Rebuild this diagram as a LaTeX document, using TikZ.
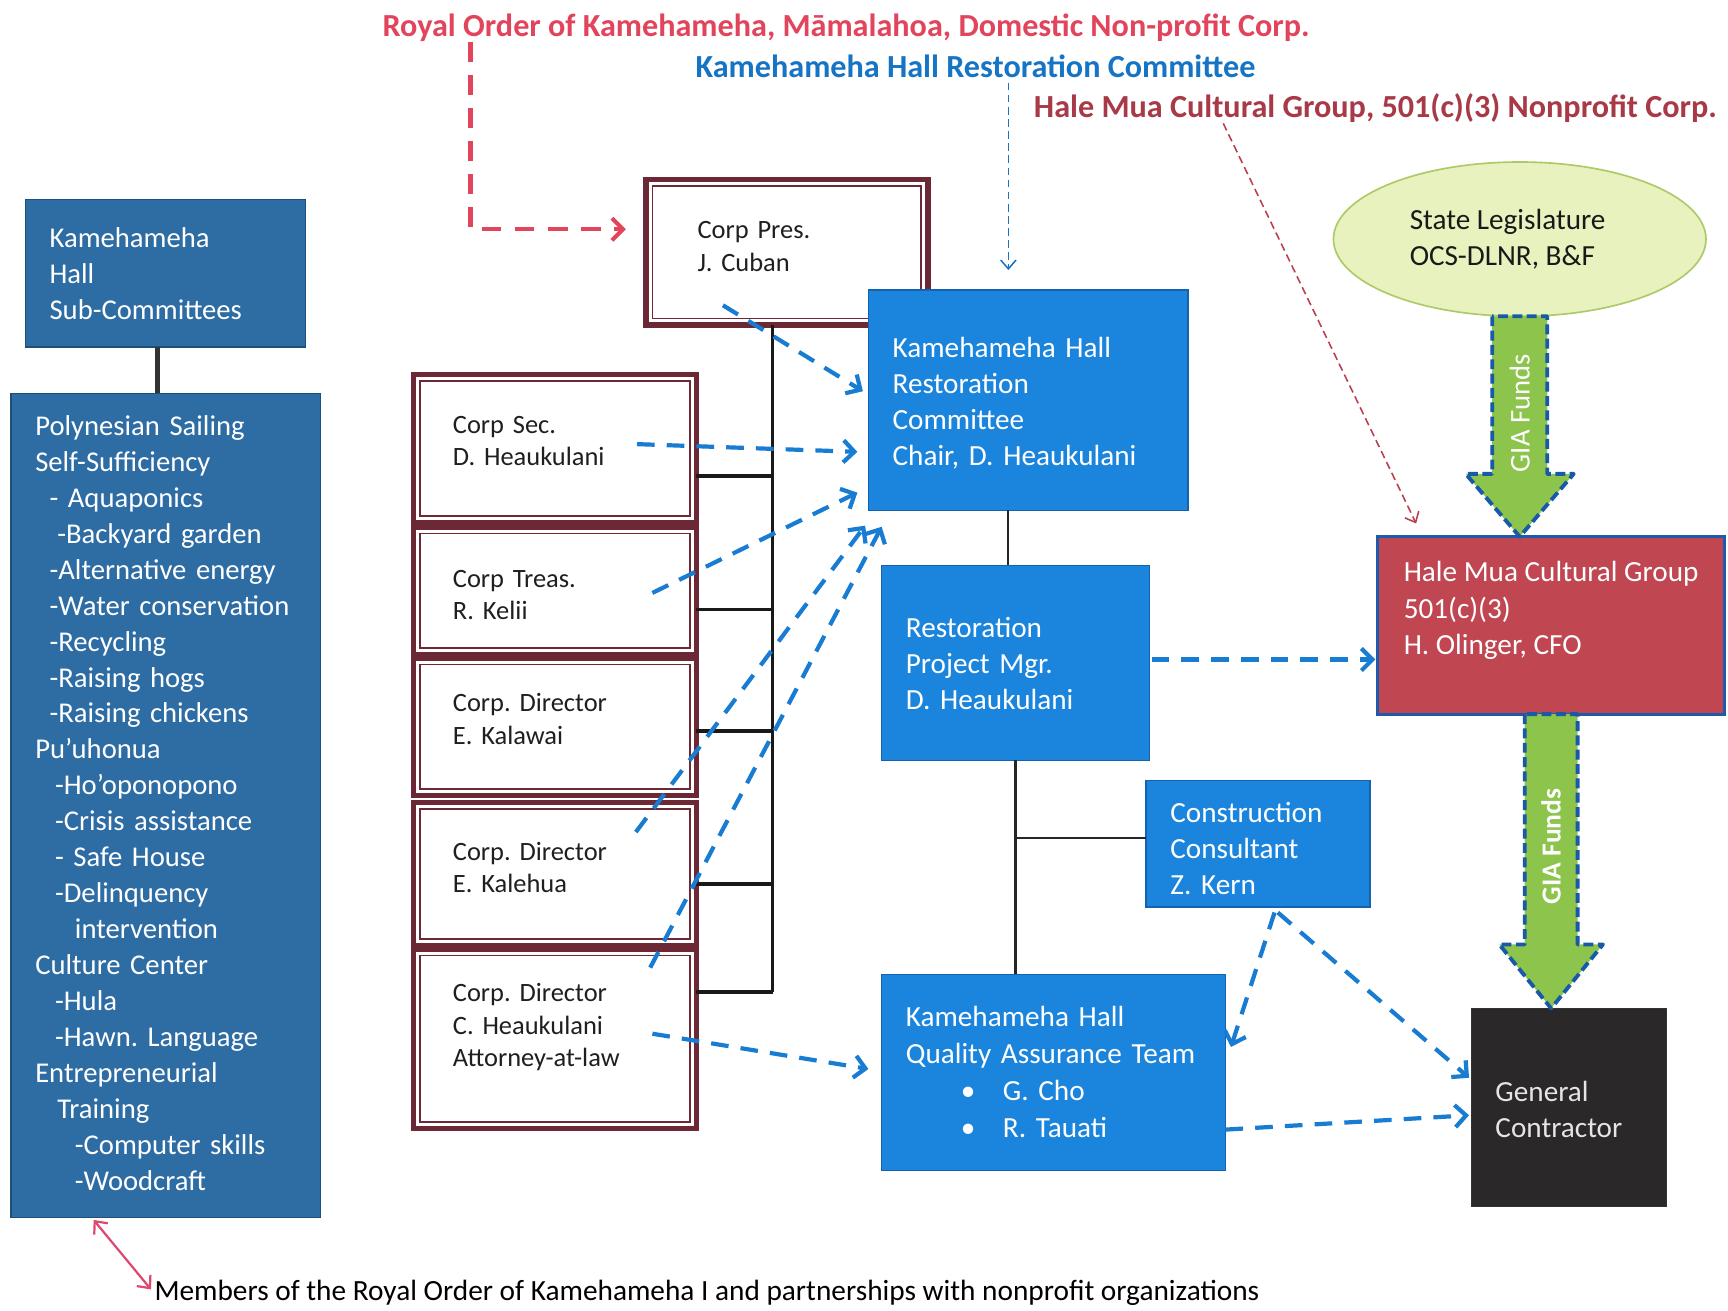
\documentclass[tikz,border=0pt]{standalone}
\usepackage{fontspec}
\setmainfont{Carlito}
\usetikzlibrary{arrows.meta,calc,shapes.geometric}
\frenchspacing
\definecolor{titleRed}{RGB}{226,68,92}
\definecolor{titleBlue}{RGB}{22,116,196}
\definecolor{titleDark}{RGB}{168,58,72}
\definecolor{leftFill}{RGB}{46,108,164}
\definecolor{leftBorder}{RGB}{32,78,122}
\definecolor{blueFill}{RGB}{27,133,221}
\definecolor{blueBorder}{RGB}{20,98,176}
\definecolor{hmFill}{RGB}{192,70,82}
\definecolor{hmBorder}{RGB}{30,90,170}
\definecolor{gcFill}{RGB}{42,40,40}
\definecolor{ellFill}{RGB}{232,242,190}
\definecolor{ellBorder}{RGB}{172,202,104}
\definecolor{giaFill}{RGB}{140,196,76}
\definecolor{giaDash}{RGB}{24,90,168}
\definecolor{maroon}{RGB}{108,40,52}
\definecolor{dashBlue}{RGB}{24,124,210}
\definecolor{pinkArrow}{RGB}{222,72,112}
\newcommand{\tdown}[1]{\rule{0pt}{\dimexpr0.7\baselineskip+#1\relax}}
\newcommand{\tup}[1]{\rule[-\dimexpr0.3\baselineskip+#1\relax]{0pt}{\dimexpr0.3\baselineskip+#1\relax}}
\begin{document}
\begin{tikzpicture}[x=1pt,y=-1pt,
  box/.style={anchor=north west, align=left, inner xsep=22pt, inner ysep=0pt, outer sep=0pt,
    text=white, font=\fontsize{26.5}{32.7}\selectfont,
    execute at begin node=\strut, execute at end node=\strut},
  bluebox/.style={box, fill=blueFill, draw=blueBorder, line width=1.2pt},
  leftbox/.style={box, fill=leftFill, draw=leftBorder, line width=1.2pt, font=\fontsize{26}{32.6}\selectfont},
  member/.style={anchor=north west, align=left, inner xsep=36pt, inner ysep=0pt, outer sep=0pt,
    fill=white, draw=maroon, line width=5pt, text=black!88,
    font=\fontsize{24}{29.5}\selectfont, minimum width=257pt, text width=185pt,
    execute at begin node=\strut, execute at end node=\strut,
    path picture={\draw[maroon, line width=1.5pt]
      ([shift={(6pt,-6pt)}]path picture bounding box.north west) rectangle
      ([shift={(-6pt,6pt)}]path picture bounding box.south east);}},
  title/.style={anchor=west, inner sep=0pt, font=\bfseries\fontsize{29.2}{33}\selectfont},
  tree/.style={draw=black!90, line width=3.5pt},
  thintree/.style={draw=black!85, line width=2pt},
  barb/.style={-{Straight Barb[length=10pt,width=20pt]}},
  bluedash/.style={barb, draw=dashBlue, line width=3.8pt, dash pattern=on 16pt off 11pt},
  reddash/.style={barb, draw=titleRed, line width=3.8pt, dash pattern=on 18pt off 12pt},
  thinblue/.style={-{Straight Barb[length=8pt,width=14pt]}, draw=titleBlue, line width=1.4pt, dash pattern=on 7pt off 4pt},
  thinred/.style={-{Straight Barb[length=8pt,width=14pt]}, draw=titleDark!70!titleRed, line width=1.4pt, dash pattern=on 7pt off 4pt},
  pinkarrow/.style={{Straight Barb[length=9pt,width=16pt]}-{Straight Barb[length=9pt,width=16pt]}, draw=pinkArrow, line width=2pt},
  gia/.style={fill=giaFill, draw=giaDash, line width=3.5pt, dash pattern=on 9pt off 4pt, line join=round},
  gialabel/.style={rotate=90, text=white, inner sep=0pt, font=\fontsize{26}{28}\selectfont},
]
\useasboundingbox (0,0) rectangle (1568,1189);
\fill[white] (0,0) rectangle (1568,1189);

% titles
\node[title, text=titleRed] (t1) at (347,25) {Royal Order of Kamehameha, Māmalahoa, Domestic Non-profit Corp.};
\node[title, text=titleBlue] (t2) at (631,60) {Kamehameha Hall Restoration Committee};
\node[title, text=titleDark] (t3) at (938,98) {Hale Mua Cultural Group, 501(c)(3) Nonprofit Corp.};

% left boxes
\node[leftbox, minimum width=254pt, text width=210pt, minimum height=134pt] (sub) at (23,181)
  {\tdown{5pt}Kamehameha\\Hall\\Sub-Committees};
\node[leftbox, minimum width=281pt, text width=237pt, minimum height=748pt] (list) at (10,357)
  {Polynesian Sailing\\
   Self-Sufficiency\\
   \hspace*{13pt}- Aquaponics\\
   \hspace*{20pt}-Backyard garden\\
   \hspace*{13pt}-Alternative energy\\
   \hspace*{13pt}-Water conservation\\
   \hspace*{13pt}-Recycling\\
   \hspace*{13pt}-Raising hogs\\
   \hspace*{13pt}-Raising chickens\\
   Pu’uhonua\\
   \hspace*{18pt}-Ho’oponopono\\
   \hspace*{18pt}-Crisis assistance\\
   \hspace*{18pt}- Safe House\\
   \hspace*{18pt}-Delinquency\\
   \hspace*{36pt}intervention\\
   Culture Center\\
   \hspace*{18pt}-Hula\\
   \hspace*{18pt}-Hawn. Language\\
   Entrepreneurial\\
   \hspace*{20pt}Training\\
   \hspace*{36pt}-Computer skills\\
   \hspace*{36pt}-Woodcraft};
\draw[line width=5pt, draw=black!80] ([xshift=-7pt]sub.south) -- ([xshift=-7pt]sub.south |- list.north);

% board
\node[member, minimum width=256pt, text width=162pt, inner xsep=47pt, minimum height=132pt] (pres) at (586,163)
  {Corp Pres.\\J. Cuban\tup{7pt}};
\node[member, minimum height=134pt] (m1) at (375,340) {Corp Sec.\\D. Heaukulani\tup{10pt}};
\node[member, minimum height=116pt] (m2) at (375,478) {\tdown{11pt}Corp Treas.\\R. Kelii};
\node[member, minimum height=125pt] (m3) at (375,597) {Corp. Director\\E. Kalawai\tup{10pt}};
\node[member, minimum height=130pt] (m4) at (375,728) {Corp. Director\\E. Kalehua\tup{7pt}};
\node[member, minimum height=163pt] (m5) at (375,861) {Corp. Director\\C. Heaukulani\\Attorney-at-law\tup{20pt}};

\coordinate (trk) at ([xshift=-13pt]pres.south);
\draw[tree] (trk) -- ([yshift=42.5pt]m5.east -| trk);
\draw[tree] ([yshift=-25pt]m1.east) -- ([yshift=-25pt]m1.east -| trk);
\draw[tree] ([yshift=-17pt]m2.east) -- ([yshift=-17pt]m2.east -| trk);
\draw[tree] ([yshift=-3.5pt]m3.east) -- ([yshift=-3.5pt]m3.east -| trk);
\draw[tree] ([yshift=-9pt]m4.east) -- ([yshift=-9pt]m4.east -| trk);
\draw[tree] ([yshift=42.5pt]m5.east) -- ([yshift=42.5pt]m5.east -| trk);

% blue boxes
\node[bluebox, minimum width=290pt, text width=246pt, minimum height=200pt] (krc) at (788,263)
  {\tdown{8pt}Kamehameha Hall\\Restoration\\Committee\\Chair, D. Heaukulani};
\node[bluebox, minimum width=243pt, text width=199pt, minimum height=177pt] (rpm) at (800,513)
  {\tdown{7pt}Restoration\\Project Mgr.\\D. Heaukulani};
\node[bluebox, minimum width=203pt, text width=159pt, minimum height=115pt] (cc) at (1040,708)
  {\tdown{14pt}Construction\\Consultant\\Z. Kern};
\node[bluebox, minimum width=312pt, text width=268pt, minimum height=178pt, font=\fontsize{26.5}{33.5}\selectfont] (qa) at (800,884)
  {\tdown{4pt}Kamehameha Hall\\Quality Assurance Team\\
   \hspace*{50pt}\makebox[38pt][l]{•}G. Cho\\
   \hspace*{50pt}\makebox[38pt][l]{•}R. Tauati};
\node[box, fill=hmFill, draw=hmBorder, line width=2.5pt, inner xsep=21pt, minimum width=315pt, minimum height=161pt] (hm) at (1250,487)
  {Hale Mua Cultural Group\\501(c)(3)\\H. Olinger, CFO\tup{22pt}};
\node[box, fill=gcFill, draw=black!80, line width=1.2pt, text=white!90!black, minimum width=177pt, text width=133pt, minimum height=180pt] (gc) at (1335,915)
  {\tdown{8pt}General\\Contractor};
\node[ellipse, fill=ellFill, draw=ellBorder, line width=1.5pt, minimum width=338pt, minimum height=140pt,
  align=left, inner sep=0pt, outer sep=0pt, text=black!90, font=\fontsize{26.5}{33}\selectfont] (ell) at (1379,217)
  {State Legislature\makebox[22pt]{}\\OCS-DLNR, B\&F};

% tree lines of the committee
\draw[thintree] ([xshift=-18pt]krc.south) -- ([xshift=-18pt]krc.south |- rpm.north);
\draw[thintree] (rpm.south) -- (rpm.south |- qa.north);
\draw[thintree] ([yshift=5pt]cc.west) -- ([yshift=5pt]cc.west -| rpm.south);

% GIA funds arrows
\coordinate (g1t) at (ell.south);
\coordinate (g1b) at (ell.south |- hm.north);
\draw[gia] let \p1=(g1t), \p2=(g1b) in
  (\x1-25pt,\y1) -- (\x1-25pt,\y2+57pt) -- (\x1-49pt,\y2+57pt) -- (\x2,\y2)
  -- (\x1+49pt,\y2+57pt) -- (\x1+25pt,\y2+57pt) -- (\x1+25pt,\y1) -- cycle;
\node[gialabel] (gl1) at ($(g1t)!0.44!(g1b)$) {GIA Funds};
\coordinate (g2t) at (hm.south);
\coordinate (g2b) at (hm.south |- gc.north);
\draw[gia] let \p1=(g2t), \p2=(g2b) in
  (\x1-24pt,\y1) -- (\x1-24pt,\y2+58pt) -- (\x1-47pt,\y2+58pt) -- (\x2,\y2)
  -- (\x1+47pt,\y2+58pt) -- (\x1+24pt,\y2+58pt) -- (\x1+24pt,\y1) -- cycle;
\node[gialabel, font=\bfseries\fontsize{25}{28}\selectfont] (gl2) at ($(g2t)!0.45!(g2b)$) {GIA Funds};

% title connectors
\coordinate (r0) at (427,38);
\draw[reddash] (r0) |- ([xshift=-18pt,yshift=21pt]pres.west);
\coordinate (b0) at (915,75);
\draw[thinblue] (b0) -- ([yshift=18pt]b0 |- krc.north);
\coordinate (h0) at (1110,112);
\draw[thinred] (h0) -- ($(hm.north west)+(35,-12)$);

% blue dashed arrows
\draw[bluedash] ($(pres.center)+(-58,48)$) -- ($(krc.west)+(-5,-8)$);
\draw[bluedash] ($(m1.east)+(-54,-4)$) -- ($(krc.west)+(-10,47)$);
\draw[bluedash] ($(m2.east)+(-40,2)$) -- ($(krc.south west)+(-10,-16)$);
\draw[bluedash] ($(m4.north east)+(-55,27)$) -- ($(krc.south west)+(-3,14)$);
\draw[bluedash] ($(m5.north east)+(-42,17)$) -- ($(krc.south west)+(12,15)$);
\draw[bluedash] ($(m5.east)+(-40,-4.5)$) -- ($(qa.west)+(-12,-3)$);
\draw[bluedash] ($(rpm.east)+(2,-3)$) -- ($(hm.west)+(-2,31)$);
\draw[bluedash] ($(cc.south)+(15,5)$) -- ($(qa.north east)+(5,66)$);
\draw[bluedash] ($(cc.south)+(18,5)$) -- ($(gc.west)+(-2,-27)$);
\draw[bluedash] ($(qa.east)+(0,52)$) -- ($(gc.west)+(-2,7)$);

% footnote
\node[anchor=west, inner sep=0pt, font=\fontsize{26.6}{30}\selectfont] (foot) at (140,1173)
  {Members of the Royal Order of Kamehameha I and partnerships with nonprofit organizations};
\draw[pinkarrow] ($(list.south west)+(75,2)$) -- ($(foot.west)+(-3,-3)$);
\end{tikzpicture}
\end{document}
